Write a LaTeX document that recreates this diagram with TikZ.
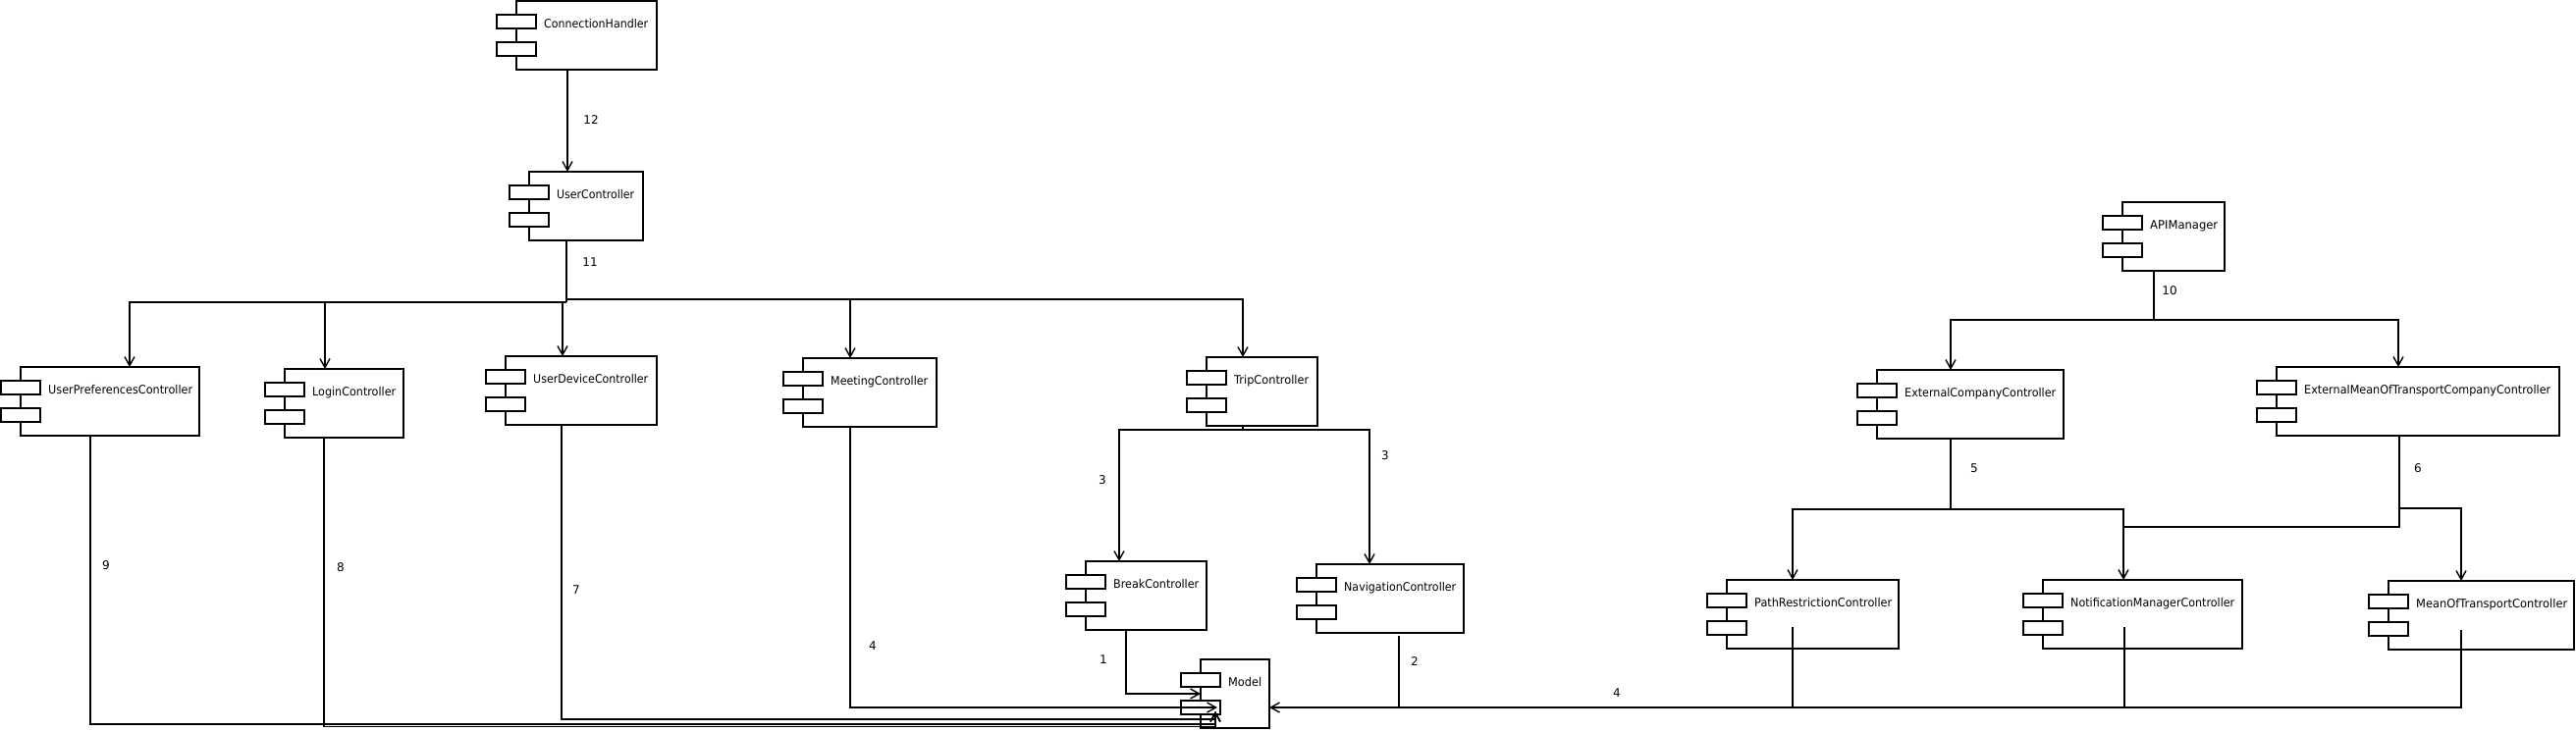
\documentclass[tikz,border=0pt]{standalone}
\usepackage{fontspec}
\setmainfont{DejaVu Sans}
\usepackage{graphicx}
\usetikzlibrary{arrows.meta,fit,calc}
\tikzset{
  compbox/.style={draw, line width=1.8pt, inner sep=0pt, outer sep=0pt},
  port/.style={draw, fill=white, line width=1.8pt},
  conn/.style={line width=1.4pt},
  dep/.style={conn, -{Straight Barb[length=9pt,width=10pt]}},
  num/.style={font=\fontsize{12}{14}\selectfont, inner sep=0pt},
  lbl/.style={font=\fontsize{12}{14}\selectfont, inner sep=0pt, anchor=base west},
}
\newcommand\comp[7]{%
  \node[compbox, fit={(#2,#3) (#4,#5)}] (#1) {};
  \draw[port] ([xshift=-20pt,yshift=-14pt]#1.north west) rectangle ++(40,14.3);
  \draw[port] ([xshift=-20pt,yshift=-42pt]#1.north west) rectangle ++(40,14.3);
  \node[lbl] (#1t) at ([xshift=28pt,yshift=-27.5pt]#1.north west) {\resizebox{#6pt}{\height}{#7}};
}
\begin{document}
\begin{tikzpicture}[x=1pt,y=-1pt]
\fill[white] (0,0) rectangle (2624,745);
\useasboundingbox (0,0) rectangle (2624,745);

% components
\comp{CH}{526}{1}{669}{71}{106}{ConnectionHandler}
\comp{UC}{539}{175}{655}{245}{79}{UserController}
\comp{UP}{21}{374}{203}{444}{147}{UserPreferencesController}
\comp{LC}{290}{376}{411}{446}{85}{LoginController}
\comp{UD}{515}{363}{669}{433}{117}{UserDeviceController}
\comp{MC}{818}{365}{954}{435}{99}{MeetingController}
\comp{TC}{1229}{364}{1342}{434}{76}{TripController}
\comp{BC}{1106}{572}{1229}{642}{87}{BreakController}
\comp{NC}{1341}{575}{1491}{645}{114}{NavigationController}
\comp{MO}{1223}{672}{1293}{742}{34}{Model}
\comp{API}{2162}{206}{2266}{276}{69}{APIManager}
\comp{ECC}{1912}{377}{2102}{447}{154}{ExternalCompanyController}
\comp{EMC}{2319}{374}{2607}{444}{251}{ExternalMeanOfTransportCompanyController}
\comp{PR}{1759}{591}{1934}{661}{140}{PathRestrictionController}
\comp{NM}{2081}{591}{2284}{661}{167}{NotificationManagerController}
\comp{MT}{2433}{592}{2622}{662}{154}{MeanOfTransportController}

% entry / exit points
\coordinate (chout) at ([xshift=52pt]CH.south west);
\coordinate (ucin) at ([xshift=39pt]UC.north west);
\coordinate (ucout) at ([xshift=38pt]UC.south west);
\coordinate (tcin) at ([xshift=37pt]TC.north west);
\coordinate (mcin) at ([xshift=48pt]MC.north west);
\coordinate (upin) at ([xshift=111pt]UP.north west);
\coordinate (lcin) at ([xshift=41pt]LC.north west);
\coordinate (udin) at ([xshift=58pt]UD.north west);
\coordinate (tcout) at ([xshift=37pt]TC.south west);
\coordinate (bcin) at ([xshift=34pt]BC.north west);
\coordinate (ncin) at ([xshift=54pt]NC.north west);
\coordinate (bcout) at ([xshift=41pt]BC.south west);
\coordinate (ncout) at ([xshift=84pt,yshift=-3pt]NC.south west);
\coordinate (moL) at ([yshift=-35pt]MO.north west);
\coordinate (moR) at ([yshift=-49pt]MO.north east);
\coordinate (moA) at ([xshift=17pt,yshift=21pt]MO.south west);
\coordinate (moB) at ([xshift=15pt,yshift=17pt]MO.south west);
\coordinate (mtout) at ([xshift=74pt,yshift=20pt]MT.south west);
\coordinate (prout) at ([xshift=67pt,yshift=22pt]PR.south west);
\coordinate (nmout) at ([xshift=83pt,yshift=22pt]NM.south west);
\coordinate (mcout) at ([xshift=48pt]MC.south west);
\coordinate (udout) at ([xshift=57pt]UD.south west);
\coordinate (upout) at ([xshift=71pt]UP.south west);
\coordinate (lcout) at ([xshift=40pt]LC.south west);
\coordinate (apiout) at ([xshift=32pt]API.south west);
\coordinate (eccin) at ([xshift=75pt]ECC.north west);
\coordinate (emcin) at ([xshift=124pt]EMC.north west);
\coordinate (eccout) at ([xshift=75pt]ECC.south west);
\coordinate (prin) at ([xshift=67pt]PR.north west);
\coordinate (nmin) at ([xshift=82pt]NM.north west);
\coordinate (emcout) at ([xshift=125pt]EMC.south west);
\coordinate (mtin) at ([xshift=74pt]MT.north west);
\coordinate (yUD) at (0,733);
\coordinate (yUP) at (0,738);
\coordinate (yLC) at (0,740.5);

% ConnectionHandler -> UserController
\draw[dep] (chout) -- (ucin |- chout) -- (ucin);

% UserController bus
\coordinate (b0) at ([yshift=-60pt]ucout);
\coordinate (b1) at ([yshift=-3pt]b0);
\draw[conn] (ucout) -- (b0);
\draw[dep] (b0) -| (tcin);
\draw[dep] (mcin |- b0) -- (mcin);
\draw[conn] (b0) -- (b1);
\draw[dep] (b1) -| (upin);
\draw[dep] (lcin |- b1) -- (lcin);
\draw[dep] (udin |- b1) -- (udin);

% TripController split
\coordinate (t0) at ([yshift=-4pt]tcout);
\draw[conn] (tcout) -- (t0);
\draw[dep] (t0) -| (bcin);
\draw[dep] (t0) -| (ncin);

% to Model
\draw[dep] (bcout) |- (moL);
\draw[dep] (mtout) |- (moR);
\draw[conn] (prout) -- (prout |- moR);
\draw[conn] (nmout) -- (nmout |- moR);
\draw[conn] (ncout) -- (ncout |- moR);
\draw[dep] (mcout) |- (moA);
\draw[dep] (udout) -- (udout |- yUD) -| (moB);
\draw[dep] (upout) -- (upout |- yUP) -| (moB);
\draw[dep] (lcout) -- (lcout |- yLC) -| (moB);

% APIManager split
\coordinate (a0) at ([yshift=-50pt]apiout);
\draw[conn] (apiout) -- (a0);
\draw[dep] (a0) -| (eccin);
\draw[dep] (a0) -| (emcin);

% ExternalCompanyController split
\coordinate (e0) at ([yshift=-72pt]eccout);
\draw[conn] (eccout) -- (e0);
\draw[dep] (e0) -| (prin);
\draw[dep] (e0) -| (nmin);

% ExternalMeanOfTransportCompanyController split
\coordinate (m0) at ([yshift=-74pt]emcout);
\coordinate (m1) at ([yshift=-93pt]emcout);
\draw[conn] (emcout) -- (m1) -- (nmin |- m1);
\draw[dep] (m0) -| (mtin);

% numbers
\node[num] (n12) at (602,122) {12};
\node[num] (n11) at (601,267) {11};
\node[num] (n3a) at (1123,489) {3};
\node[num] (n3b) at (1411,464) {3};
\node[num] (n1) at (1124,672) {1};
\node[num] (n2) at (1441,674) {2};
\node[num] (n4a) at (889,658) {4};
\node[num] (n7) at (587,601) {7};
\node[num] (n9) at (108,576) {9};
\node[num] (n8) at (347,578) {8};
\node[num] (n4b) at (1647,706) {4};
\node[num] (n10) at (2210,296) {10};
\node[num] (n5) at (2011,477) {5};
\node[num] (n6) at (2463,477) {6};
\end{tikzpicture}
\end{document}
